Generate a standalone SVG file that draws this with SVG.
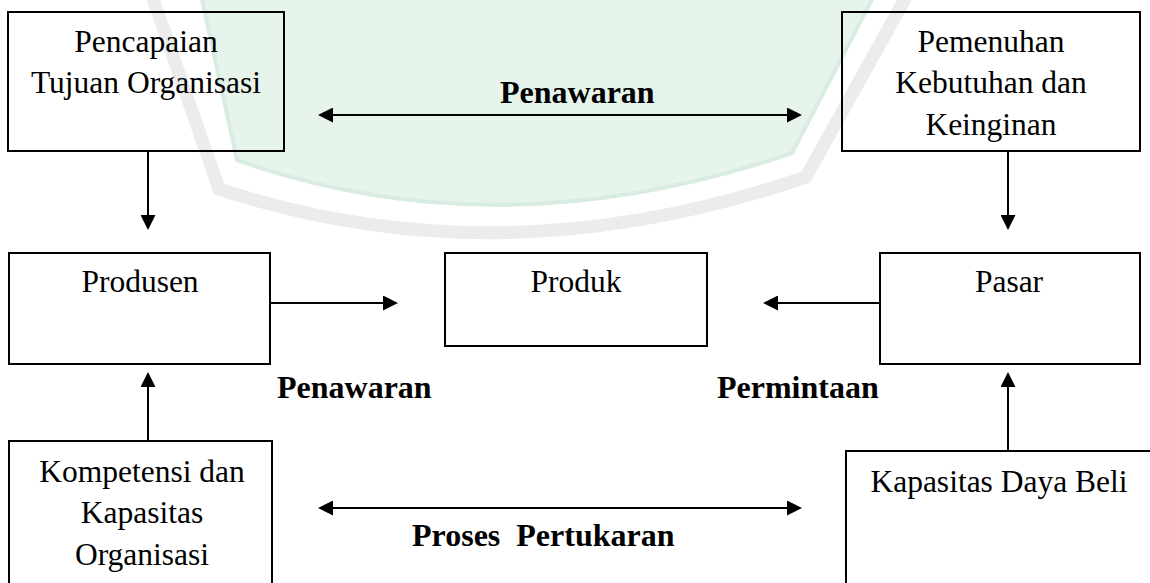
<svg xmlns="http://www.w3.org/2000/svg" width="1150" height="583" viewBox="0 0 1150 583">
  <style>
    .box { fill: none; stroke: #000; stroke-width: 2; }
    .t { font-family: "Liberation Serif", "Times New Roman", serif; font-size: 31.5px; fill: #000; }
    .c { text-anchor: middle; }
    .b { font-family: "Liberation Serif", "Times New Roman", serif; font-size: 32px; font-weight: bold; fill: #000; }
    .con { stroke: #000; stroke-width: 2; fill: none; }
  </style>
  <defs>
    <marker id="ah" markerUnits="userSpaceOnUse" markerWidth="16" markerHeight="15" refX="13" refY="7.5" orient="auto-start-reverse">
      <path d="M0,0 L15,7.5 L0,15 Z" fill="#000"/>
    </marker>
  </defs>
  <rect width="1150" height="583" fill="#fff"/>

  <g id="watermark">
    <ellipse cx="455" cy="-8" rx="45" ry="26" fill="#f0f7da"/>
    <ellipse cx="578" cy="-6" rx="36" ry="13" fill="#f4f9e0"/>
    <path d="M200,-10 L237,160 Q500,253 792,153 L877,-10 Z" fill="#e6f4ec" stroke="#d9ece1" stroke-width="4"/>
    <path d="M150,-10 L219,189 Q500,282 806,177 L910,-10" fill="none" stroke="#ececec" stroke-width="13"/>
  </g>

  <g id="connectors">
    <line class="con" x1="320" y1="115" x2="800" y2="115" marker-start="url(#ah)" marker-end="url(#ah)"/>
    <line class="con" x1="148" y1="151" x2="148" y2="228" marker-end="url(#ah)"/>
    <line class="con" x1="1008" y1="151" x2="1008" y2="228" marker-end="url(#ah)"/>
    <line class="con" x1="270" y1="303" x2="396" y2="303" marker-end="url(#ah)"/>
    <line class="con" x1="880" y1="303" x2="765" y2="303" marker-end="url(#ah)"/>
    <line class="con" x1="148" y1="441" x2="148" y2="374" marker-end="url(#ah)"/>
    <line class="con" x1="1008" y1="451" x2="1008" y2="374" marker-end="url(#ah)"/>
    <line class="con" x1="320" y1="508" x2="800" y2="508" marker-start="url(#ah)" marker-end="url(#ah)"/>
  </g>

  <g id="labels">
    <text class="b" x="500" y="103">Penawaran</text>
    <text class="b" x="277" y="398">Penawaran</text>
    <text class="b" x="717" y="398">Permintaan</text>
    <text class="b" x="412" y="546" xml:space="preserve">Proses  Pertukaran</text>
  </g>

  <g id="pencapaian">
    <rect class="box" x="8" y="12" width="276" height="139"/>
    <text class="t c" x="146" y="52">Pencapaian</text>
    <text class="t c" x="146" y="93">Tujuan Organisasi</text>
  </g>

  <g id="pemenuhan">
    <rect class="box" x="842" y="12" width="298" height="139"/>
    <text class="t c" x="991" y="52">Pemenuhan</text>
    <text class="t c" x="991" y="93">Kebutuhan dan</text>
    <text class="t c" x="991" y="135">Keinginan</text>
  </g>

  <g id="produsen">
    <rect class="box" x="9" y="253" width="261" height="111"/>
    <text class="t c" x="140" y="292">Produsen</text>
  </g>

  <g id="produk">
    <rect class="box" x="445" y="253" width="262" height="93"/>
    <text class="t c" x="576" y="292">Produk</text>
  </g>

  <g id="pasar">
    <rect class="box" x="880" y="253" width="260" height="111"/>
    <text class="t c" x="1009" y="292">Pasar</text>
  </g>

  <g id="kompetensi">
    <rect class="box" x="9" y="441" width="263" height="160"/>
    <text class="t c" x="142" y="482">Kompetensi dan</text>
    <text class="t c" x="142" y="523">Kapasitas</text>
    <text class="t c" x="142" y="565">Organisasi</text>
  </g>

  <g id="kapasitas">
    <rect class="box" x="846" y="451" width="306" height="150"/>
    <text class="t c" x="999" y="492">Kapasitas Daya Beli</text>
  </g>
</svg>
